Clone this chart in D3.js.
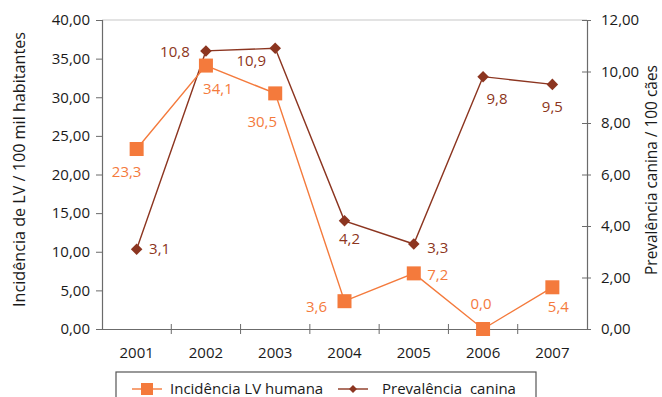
<!DOCTYPE html>
<html>
<head>
<meta charset="utf-8">
<script src="https://cdn.jsdelivr.net/npm/d3@7"></script>
<style>
  body { margin: 0; background: #fff; }
  text { font-family: "Open Sans", "Noto Sans", sans-serif; }
</style>
</head>
<body>
<div id="chart"></div>
<script>
(function() {

// data
const years = ["2001", "2002", "2003", "2004", "2005", "2006", "2007"];
const incidencia = [23.3, 34.1, 30.5, 3.6, 7.2, 0.0, 5.4];
const prevalencia = [3.1, 10.8, 10.9, 4.2, 3.3, 9.8, 9.5];
const leftTicks = [0, 5, 10, 15, 20, 25, 30, 35, 40];
const rightTicks = [0, 2, 4, 6, 8, 10, 12];

// label offsets (layout only)
const incOffsets = [[-10, 28], [12, 28], [-13, 34], [-28, 11], [24, 7], [-2, -20], [6, 25]];
const prevOffsets = [[23, 5], [-31, 6], [-24, 18], [5, 23], [24, 9], [14, 27], [0, 28]];

const W = 662, H = 397;
const margin = { top: 20, right: 75, bottom: 68, left: 102 };
const width = W - margin.left - margin.right,
      height = H - margin.top - margin.bottom;

const orange = "#f47a3c", brown = "#8c3520", axisCol = "#6b6b6b";

const svg = d3.select("#chart").append("svg")
  .attr("width", W).attr("height", H);

const g = svg.append("g").attr("transform", `translate(${margin.left},${margin.top})`);

const x = d3.scaleBand().domain(years).range([0, width]);
const yL = d3.scaleLinear().domain([0, 40]).range([height, 0]);
const yR = d3.scaleLinear().domain([0, 12]).range([height, 0]);
const fmt = v => d3.format(".2f")(v).replace(".", ",");
const fmt1 = v => d3.format(".1f")(v).replace(".", ",");

// shrink/grow font so text takes the wanted length
function fitText(sel, target) {
  const fs = +sel.attr("font-size");
  const len = sel.node().getComputedTextLength();
  sel.attr("font-size", fs * target / len);
}

// top border
g.append("line").attr("x1", 0).attr("x2", width).attr("y1", 0).attr("y2", 0)
  .attr("stroke", "#c8c8c8").attr("stroke-width", 1.2);

// left axis
const axL = g.append("g").call(d3.axisLeft(yL).tickValues(leftTicks).tickFormat(fmt).tickSize(6).tickPadding(6));
axL.select(".domain").attr("stroke", axisCol).attr("stroke-width", 1.2);
axL.selectAll(".tick line").attr("stroke", axisCol);
axL.selectAll("text").attr("font-size", 15).attr("fill", "#1a1a1a");

// right axis
const axR = g.append("g").attr("transform", `translate(${width},0)`)
  .call(d3.axisRight(yR).tickValues(rightTicks).tickFormat(fmt).tickSize(4).tickPadding(10));
axR.select(".domain").attr("stroke", axisCol).attr("stroke-width", 1.2);
axR.selectAll(".tick line").attr("stroke", axisCol).attr("x1", -5);
axR.selectAll("text").attr("font-size", 15).attr("fill", "#1a1a1a");

// bottom axis with ticks at band boundaries
const axB = g.append("g").attr("transform", `translate(0,${height})`)
  .call(d3.axisBottom(x).tickSize(0).tickPadding(18));
axB.select(".domain").attr("stroke", axisCol).attr("stroke-width", 1.2);
axB.selectAll("text").attr("font-size", 15).attr("fill", "#1a1a1a");
g.append("g").selectAll("line")
  .data(years.slice(1))
  .join("line")
  .attr("x1", d => x(d)).attr("x2", d => x(d))
  .attr("y1", height - 5).attr("y2", height + 5)
  .attr("stroke", axisCol);

// axis titles
const tL = svg.append("text")
  .attr("transform", "translate(25,169.5) rotate(-90)")
  .attr("text-anchor", "middle").attr("font-size", 16).attr("fill", "#1a1a1a")
  .text("Incidência de LV / 100 mil habitantes");
fitText(tL, 275);
const tR = svg.append("text")
  .attr("transform", "translate(657,170) rotate(-90)")
  .attr("text-anchor", "middle").attr("font-size", 16).attr("fill", "#1a1a1a")
  .text("Prevalência canina / 100 cães");
fitText(tR, 210);

const cx = d => x(d) + x.bandwidth() / 2;

// prevalencia line (brown, right axis)
const lineR = d3.line().x((d, i) => cx(years[i])).y(d => yR(d));
g.append("path").datum(prevalencia).attr("d", lineR)
  .attr("fill", "none").attr("stroke", brown).attr("stroke-width", 1.4);

// incidencia line (orange, left axis)
const lineL = d3.line().x((d, i) => cx(years[i])).y(d => yL(d));
g.append("path").datum(incidencia).attr("d", lineL)
  .attr("fill", "none").attr("stroke", orange).attr("stroke-width", 1.4);

const diamond = d3.symbol().type(d3.symbolDiamond2).size(85);

g.selectAll(".dia").data(prevalencia).join("path")
  .attr("class", "dia")
  .attr("d", diamond)
  .attr("transform", (d, i) => `translate(${cx(years[i])},${yR(d)})`)
  .attr("fill", brown);

g.selectAll(".sq").data(incidencia).join("rect")
  .attr("class", "sq")
  .attr("x", (d, i) => cx(years[i]) - 7)
  .attr("y", d => yL(d) - 7)
  .attr("width", 14).attr("height", 14)
  .attr("fill", orange);

// value labels
g.selectAll(".lblR").data(prevalencia).join("text")
  .attr("class", "lblR")
  .attr("x", (d, i) => cx(years[i]) + prevOffsets[i][0])
  .attr("y", (d, i) => yR(d) + prevOffsets[i][1])
  .attr("text-anchor", "middle").attr("font-size", 15).attr("fill", brown)
  .text(fmt1);

g.selectAll(".lblL").data(incidencia).join("text")
  .attr("class", "lblL")
  .attr("x", (d, i) => cx(years[i]) + incOffsets[i][0])
  .attr("y", (d, i) => yL(d) + incOffsets[i][1])
  .attr("text-anchor", "middle").attr("font-size", 15).attr("fill", orange)
  .text(fmt1);

// legend
const leg = svg.append("g");
leg.append("rect").attr("x", 116).attr("y", 372).attr("width", 420).attr("height", 40)
  .attr("fill", "none").attr("stroke", "#555").attr("stroke-width", 1.2);
leg.append("line").attr("x1", 132).attr("x2", 162).attr("y1", 389).attr("y2", 389)
  .attr("stroke", orange).attr("stroke-width", 1.4);
leg.append("rect").attr("x", 141).attr("y", 383).attr("width", 12).attr("height", 12).attr("fill", orange);
leg.append("text").attr("x", 170).attr("y", 394).attr("font-size", 15).attr("fill", "#1a1a1a")
  .text("Incidência LV humana");
leg.append("line").attr("x1", 338).attr("x2", 368).attr("y1", 389).attr("y2", 389)
  .attr("stroke", brown).attr("stroke-width", 1.4);
leg.append("path").attr("d", d3.symbol().type(d3.symbolDiamond2).size(40))
  .attr("transform", "translate(353,389)").attr("fill", brown);
leg.append("text").attr("x", 382).attr("y", 394).attr("font-size", 15).attr("fill", "#1a1a1a")
  .attr("xml:space", "preserve").style("white-space", "pre")
  .text("Prevalência  canina");

})();
</script>
</body>
</html>
